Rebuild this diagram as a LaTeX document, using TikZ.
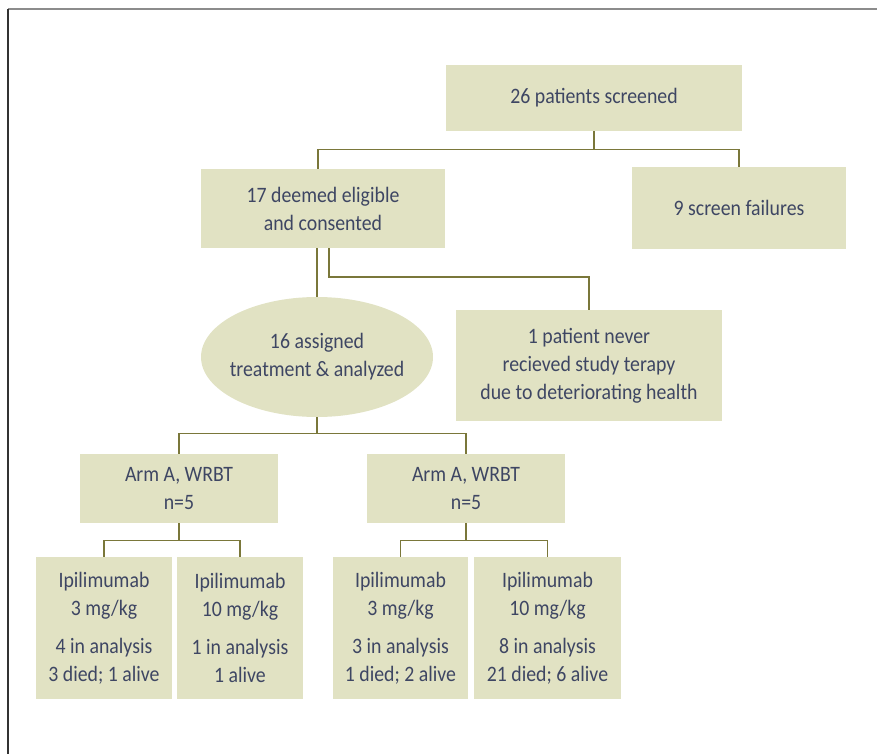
\documentclass[tikz,border=0pt]{standalone}
\usepackage{fontspec}
\setmainfont{Carlito}[FakeStretch=0.9]
\usepackage{tikz}
\usetikzlibrary{shapes.geometric}
\definecolor{boxfill}{HTML}{E1E2C3}
\definecolor{linkcol}{HTML}{7A773A}
\definecolor{textcol}{HTML}{3E4663}
\begin{document}
\begin{tikzpicture}[x=1pt, y=-1pt,
  box/.style={rectangle, fill=boxfill, inner sep=0pt, align=center, text=textcol,
    font=\fontsize{22}{28}\selectfont},
  oval/.style={ellipse, fill=boxfill, inner xsep=-6pt, inner ysep=0pt, align=center, text=textcol,
    font=\fontsize{22}{28}\selectfont},
  link/.style={draw=linkcol, line width=1.1pt}]
 \useasboundingbox (0, 0) rectangle (877, 754);
 \draw [draw=gray!90, line width=1.5pt] (8, 9) -- (877, 9);
 \draw [draw=black!80, line width=1.5pt] (8, 9) -- (8, 754);
 \node [box, minimum width=296, minimum height=66] (screened) at (594, 98) {26 patients screened};
 \node [box, minimum width=214, minimum height=82] (failures) at (739, 208) {9 screen failures};
 \node [box, minimum width=244, minimum height=79] (eligible) at (323, 208.5) {17 deemed eligible\\and consented};
 \node [oval, minimum width=232, minimum height=120] (treated) at (317, 357) {16 assigned\\treatment \& analyzed};
 \node [box, minimum width=266, minimum height=111] (never) at (589, 365.5) {1 patient never\\recieved study terapy\\due to deteriorating health};
 \node [box, minimum width=198, minimum height=69] (armA) at (179, 488.5) {Arm A, WRBT\\n=5};
 \node [box, minimum width=198, minimum height=69] (armB) at (466, 488.5) {Arm A, WRBT\\n=5};
 \node [box, minimum width=136, minimum height=142] (doseA1) at (104, 628) {Ipilimumab\\3 mg/kg\\[10pt]4 in analysis\\3 died; 1 alive};
 \node [box, minimum width=126, minimum height=142] (doseA2) at (240, 628) {Ipilimumab\\10 mg/kg\\[10pt]1 in analysis\\1 alive};
 \node [box, minimum width=135, minimum height=142] (doseB1) at (400.5, 628) {Ipilimumab\\3 mg/kg\\[10pt]3 in analysis\\1 died; 2 alive};
 \node [box, minimum width=147, minimum height=142] (doseB2) at (547.5, 628) {Ipilimumab\\10 mg/kg\\[10pt]8 in analysis\\21 died; 6 alive};
 \coordinate (in1) at (318, 169);
 \coordinate (out1) at (329, 277);
 \draw [link] (screened.south) -- ++(0, 18) -| (in1);
 \draw [link] (screened.south) -- ++(0, 18) -| (failures.north);
 \draw [link] (eligible.south -| treated.north) -- (treated.north);
 \draw [link] (eligible.south -| out1) -- (out1) -| (never.north);
 \draw [link] (treated.south) -- ++(0, 16) -| (armA.north);
 \draw [link] (treated.south) -- ++(0, 16) -| (armB.north);
 \draw [link] (armA.south) -- ++(0, 17) -| (doseA1.north);
 \draw [link] (armA.south) -- ++(0, 17) -| (doseA2.north);
 \draw [link] (armB.south) -- ++(0, 17) -| (doseB1.north);
 \draw [link] (armB.south) -- ++(0, 17) -| (doseB2.north);
\end{tikzpicture}
\end{document}
